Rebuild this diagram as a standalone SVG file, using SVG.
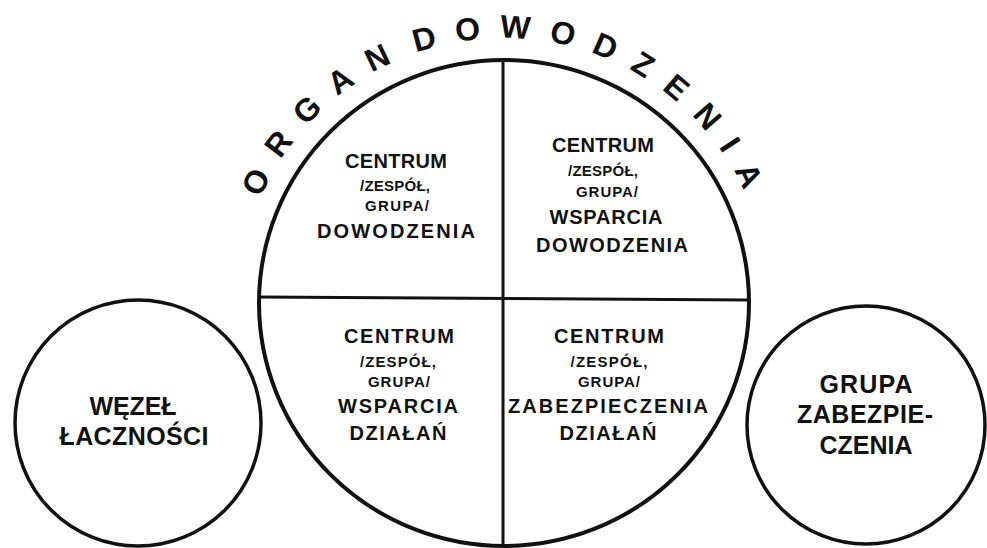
<svg xmlns="http://www.w3.org/2000/svg" width="987" height="548" viewBox="0 0 987 548">
  <style>
    .bg { fill: #ffffff; }
    .ring { fill: none; stroke: #111111; stroke-width: 4; }
    .side { fill: none; stroke: #111111; stroke-width: 3.5; }
    .div { stroke: #111111; stroke-width: 3; fill: none; }
    text { font-family: "Liberation Sans", Arial, sans-serif; font-weight: bold; fill: #111111; text-anchor: middle; }
    .big { font-size: 20px; }
    .small { font-size: 15px; }
    .lbl { font-size: 25px; }
    .arc { font-size: 32px; letter-spacing: 18.6px; word-spacing: -20.6px; }
  </style>
  <defs>
    <path id="arcPath" d="M 239 303 A 265 265 0 0 1 769 303"/>
  </defs>
  <rect class="bg" x="0" y="0" width="987" height="548"/>

  <g id="organ-dowodzenia">
    <ellipse class="ring" cx="504" cy="303" rx="245" ry="243"/>
    <line class="div" x1="503" y1="60" x2="503" y2="546"/>
    <line class="div" x1="259" y1="297" x2="749" y2="300"/>
    <text class="arc"><textPath href="#arcPath" startOffset="50.6%">ORGAN DOWODZENIA</textPath></text>
  </g>

  <g id="centrum-dowodzenia">
    <text class="big" x="396" y="168" textLength="102">CENTRUM</text>
    <text class="small" x="395" y="191" textLength="70">/ZESPÓŁ,</text>
    <text class="small" x="397" y="211" textLength="64">GRUPA/</text>
    <text class="big" x="396" y="238" textLength="158">DOWODZENIA</text>
  </g>

  <g id="centrum-wsparcia-dowodzenia">
    <text class="big" x="603" y="152" textLength="102">CENTRUM</text>
    <text class="small" x="603" y="176" textLength="70">/ZESPÓŁ,</text>
    <text class="small" x="607" y="197" textLength="62">GRUPA/</text>
    <text class="big" x="606" y="224" textLength="113">WSPARCIA</text>
    <text class="big" x="612" y="252" textLength="152">DOWODZENIA</text>
  </g>

  <g id="centrum-wsparcia-dzialan">
    <text class="big" x="399" y="343" textLength="110">CENTRUM</text>
    <text class="small" x="398" y="367" textLength="76">/ZESPÓŁ,</text>
    <text class="small" x="399" y="387" textLength="62">GRUPA/</text>
    <text class="big" x="398" y="413" textLength="120">WSPARCIA</text>
    <text class="big" x="398" y="440" textLength="97">DZIAŁAŃ</text>
  </g>

  <g id="centrum-zabezpieczenia-dzialan">
    <text class="big" x="609" y="343" textLength="110">CENTRUM</text>
    <text class="small" x="609" y="367" textLength="77">/ZESPÓŁ,</text>
    <text class="small" x="609" y="387" textLength="62">GRUPA/</text>
    <text class="big" x="608" y="413" textLength="200">ZABEZPIECZENIA</text>
    <text class="big" x="608" y="440" textLength="97">DZIAŁAŃ</text>
  </g>

  <g id="wezel-lacznosci">
    <circle class="side" cx="138" cy="423" r="123"/>
    <text class="lbl" x="133" y="415" textLength="87">WĘZEŁ</text>
    <text class="lbl" x="134" y="445" textLength="149">ŁACZNOŚCI</text>
  </g>

  <g id="grupa-zabezpieczenia">
    <circle class="side" cx="866" cy="425" r="119"/>
    <text class="lbl" x="866" y="393" textLength="93">GRUPA</text>
    <text class="lbl" x="865" y="423" textLength="136">ZABEZPIE-</text>
    <text class="lbl" x="866" y="454" textLength="93">CZENIA</text>
  </g>

  <g id="connectors"></g>
</svg>
